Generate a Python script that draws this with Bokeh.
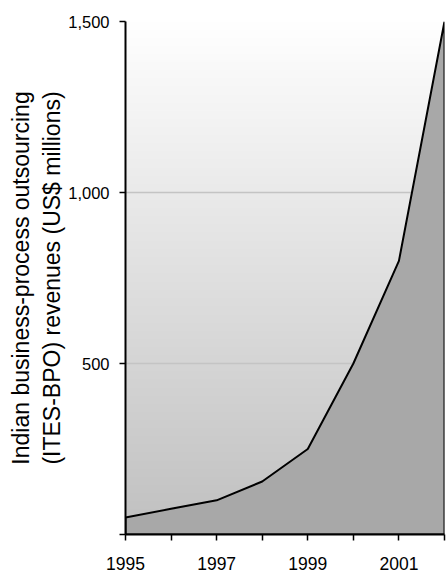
import numpy as np
from bokeh.plotting import figure
from bokeh.models import FixedTicker, NumeralTickFormatter, Range1d, Grid
from bokeh.embed import file_html
from bokeh.resources import INLINE

# ---- data ----
years = [1995, 1996, 1997, 1998, 1999, 2000, 2001, 2002]
revenues = [50, 75, 100, 155, 250, 500, 800, 1500]
x_tick_years = [1995, 1996, 1997, 1998, 1999, 2000, 2001, 2002]
x_label_years = [1995, 1997, 1999, 2001]
y_ticks = [0, 500, 1000, 1500]
y_max = 1500
y_title = "Indian business-process outsourcing\n(ITES-BPO) revenues (US$ millions)"

FONT = "Liberation Sans"

p = figure(width=446, height=577, output_backend="svg", toolbar_location=None,
           x_range=Range1d(years[0], years[-1]), y_range=Range1d(0, y_max),
           min_border_left=125, min_border_right=2, min_border_top=21, min_border_bottom=43)
p.outline_line_color = None
p.background_fill_color = "white"

# gradient background (white at top -> grey at bottom)
n = 512
t = np.linspace(0, 1, n)
g = (192 + (255 - 192) * t).astype(np.uint8)
img = np.zeros((n, 1), dtype=np.uint32)
view = img.view(dtype=np.uint8).reshape((n, 1, 4))
view[:, 0, 0] = g
view[:, 0, 1] = g
view[:, 0, 2] = g
view[:, 0, 3] = 255
p.image_rgba(image=[img], x=years[0], y=0, dw=years[-1] - years[0], dh=y_max, level="image")

# area
xs = years + [years[-1], years[0]]
ys = revenues + [0, 0]
p.patch(xs, ys, fill_color="#a8a8a8", line_color="black", line_width=2)

# grids
p.xgrid.visible = False
p.ygrid.ticker = FixedTicker(ticks=[v for v in y_ticks if 0 < v < y_max])
p.ygrid.grid_line_color = "#c4c4c4"
p.ygrid.grid_line_width = 1.5
top_grid = Grid(dimension=1, ticker=FixedTicker(ticks=[y_max]),
                grid_line_color="#808080", grid_line_width=2.5)
p.add_layout(top_grid)

# x axis
xa = p.xaxis[0]
xa.ticker = FixedTicker(ticks=x_tick_years)
xa.major_label_overrides = {y: ("" if y not in x_label_years else str(y)) for y in x_tick_years}
xa.minor_tick_line_color = None
xa.major_tick_in = 0
xa.major_tick_out = 6
xa.major_tick_line_width = 1.5
xa.axis_line_width = 2
xa.axis_line_color = "black"
xa.major_label_standoff = 16
xa.major_label_text_font = FONT
xa.major_label_text_font_size = "17.5px"
xa.major_label_text_color = "black"

# y axis
ya = p.yaxis[0]
ya.ticker = FixedTicker(ticks=y_ticks)
ya.formatter = NumeralTickFormatter(format="0,0")
ya.major_label_overrides = {0: ""}
ya.minor_tick_line_color = None
ya.major_tick_in = 0
ya.major_tick_out = 6
ya.major_tick_line_width = 1.5
ya.axis_line_width = 2
ya.axis_line_color = "black"
ya.major_label_standoff = 10
ya.major_label_text_font = FONT
ya.major_label_text_font_size = "16.5px"
ya.major_label_text_color = "black"
ya.axis_label = y_title
ya.axis_label_text_font = FONT
ya.axis_label_text_font_size = "23px"
ya.axis_label_text_font_style = "normal"
ya.axis_label_text_color = "black"
ya.axis_label_standoff = 0
ya.axis_label_text_line_height = 1.2

open("out.html", "w").write(file_html(p, INLINE))
